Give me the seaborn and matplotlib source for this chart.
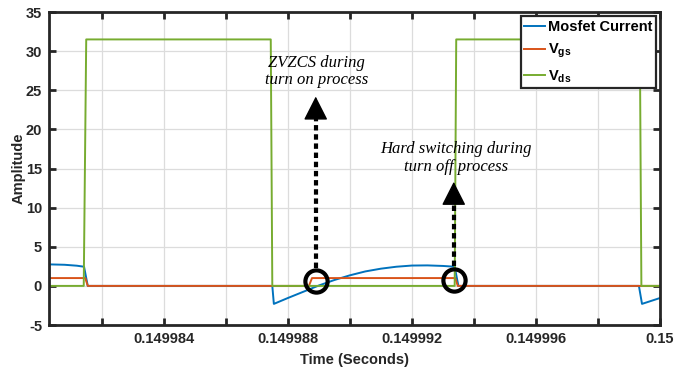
import numpy as np
import pandas as pd
import matplotlib
matplotlib.use("Agg")
import matplotlib.pyplot as plt
import seaborn as sns

# ---------------- data ----------------
t_current = [0.1499803, 0.1499808, 0.1499812, 0.14998143, 0.14998155,
             0.1499875, 0.14998755, 0.1499880, 0.1499885, 0.1499890,
             0.1499895, 0.1499900, 0.1499905, 0.1499910, 0.1499915,
             0.1499920, 0.1499925, 0.1499930, 0.14999338, 0.1499935,
             0.14999932, 0.14999942, 0.1500000]
i_current = [2.75, 2.7, 2.58, 2.45, 0.0,
             0.0, -2.3, -1.55, -0.75, 0.05,
             0.75, 1.35, 1.85, 2.2, 2.45,
             2.6, 2.62, 2.55, 2.45, 0.0,
             0.0, -2.3, -1.55]

t_vgs = [0.1499803, 0.14998147, 0.14998155, 0.14998868, 0.14998878,
         0.14999340, 0.14999348, 0.1500000]
v_gs = [1.0, 1.0, 0.0, 0.0, 1.0, 1.0, 0.0, 0.0]

t_vds = [0.1499803, 0.14998142, 0.1499815, 0.14998745, 0.1499875,
         0.14999338, 0.14999343, 0.14999935, 0.1499994, 0.1500000]
v_ds = [0.0, 0.0, 31.5, 31.5, 0.0, 0.0, 31.5, 31.5, 0.0, 0.0]

series_names = ["Mosfet Current", r"$\mathbf{V_{gs}}$", r"$\mathbf{V_{ds}}$"]
series_colors = ["#0072BD", "#D95319", "#77AC30"]

x_ticks = [0.149982, 0.149984, 0.149986, 0.149988, 0.149990,
           0.149992, 0.149994, 0.149996, 0.149998, 0.150000]
x_ticklabels = ["", "0.149984", "", "0.149988", "",
                "0.149992", "", "0.149996", "", "0.15"]
y_ticks = [-5, 0, 5, 10, 15, 20, 25, 30, 35]
x_range = (0.1499803, 0.1500000)
y_range = (-5, 35)

# annotation anchors
zvzcs_point = (0.1499889, 0.6)
hard_point = (0.14999335, 0.75)
zvzcs_text = (0.14998892, 27.4)
hard_text = (0.14999342, 16.35)
zvzcs_arrow = (2.3, 21.7, 24.2)   # line start, head base, head tip
hard_arrow = (2.6, 10.8, 13.3)

# ---------------- figure ----------------
plt.rcParams["font.family"] = ["Liberation Sans", "DejaVu Sans"]
plt.rcParams["mathtext.fontset"] = "custom"
plt.rcParams["mathtext.rm"] = "Liberation Sans:bold"
plt.rcParams["mathtext.bf"] = "Liberation Sans:bold"
plt.rcParams["mathtext.it"] = "Liberation Sans:bold"

df = pd.concat([
    pd.DataFrame({"time": t_current, "value": i_current, "series": series_names[0]}),
    pd.DataFrame({"time": t_vgs, "value": v_gs, "series": series_names[1]}),
    pd.DataFrame({"time": t_vds, "value": v_ds, "series": series_names[2]}),
], ignore_index=True)

fig = plt.figure(figsize=(6.97, 3.68), dpi=100)
ax = fig.add_axes([0.0703, 0.1168, 0.8766, 0.8505])

sns.lineplot(data=df, x="time", y="value", hue="series",
             hue_order=series_names, palette=series_colors,
             estimator=None, sort=False, linewidth=1.4, ax=ax)

ax.set_xlim(*x_range)
ax.set_ylim(*y_range)
ax.set_xticks(x_ticks)
ax.set_xticklabels(x_ticklabels)
ax.set_yticks(y_ticks)
ax.set_yticklabels([str(v) for v in y_ticks])

axis_col = "#262626"
ax.grid(True, color="#dcdcdc", linewidth=0.9)
ax.set_axisbelow(True)
for s in ax.spines.values():
    s.set_linewidth(2.0)
    s.set_color(axis_col)
ax.tick_params(direction="in", length=5, width=2, top=True, right=True,
               colors=axis_col, labelsize=10.5, pad=5)
for lab in ax.get_xticklabels() + ax.get_yticklabels():
    lab.set_fontweight("bold")

ax.set_xlabel("Time (Seconds)", fontsize=10.5, fontweight="bold",
              color=axis_col, labelpad=5)
ax.set_ylabel("Amplitude", fontsize=10.5, fontweight="bold",
              color=axis_col, labelpad=0)

# legend
handles, labels = ax.get_legend_handles_labels()
leg = ax.legend(handles, labels, loc="upper right", bbox_to_anchor=(1, 1),
                borderaxespad=0.3, fancybox=False, framealpha=1,
                edgecolor=axis_col, handlelength=1.4, handletextpad=0.2,
                borderpad=0.25, labelspacing=0.55,
                prop={"weight": "bold", "size": 10.5})
leg.get_frame().set_linewidth(1.6)
leg.set_zorder(10)

# annotations: circles, dotted arrows, italic serif text
for (px, py), (y0, yb, ytip) in [(zvzcs_point, zvzcs_arrow), (hard_point, hard_arrow)]:
    ax.plot([px], [py], marker="o", ms=16, mfc="none", mec="black",
            mew=3, zorder=6)
    ax.plot([px, px], [y0, yb], color="black", lw=3,
            linestyle=(0, (1.3, 0.9)), zorder=6)
    ax.annotate("", xy=(px, ytip), xytext=(px, yb - 0.05),
                arrowprops=dict(arrowstyle="-|>,head_length=0.75,head_width=0.38",
                                color="black", lw=1, mutation_scale=20,
                                shrinkA=0, shrinkB=0), zorder=7)

ax.text(*zvzcs_text, "ZVZCS during\nturn on process", ha="center",
        va="center", fontsize=12, style="italic", family="Liberation Serif",
        linespacing=1.15, zorder=8)
ax.text(*hard_text, "Hard switching during\nturn off process", ha="center",
        va="center", fontsize=12, style="italic", family="Liberation Serif",
        linespacing=1.15, zorder=8)

fig.savefig("out.png", dpi=100)
